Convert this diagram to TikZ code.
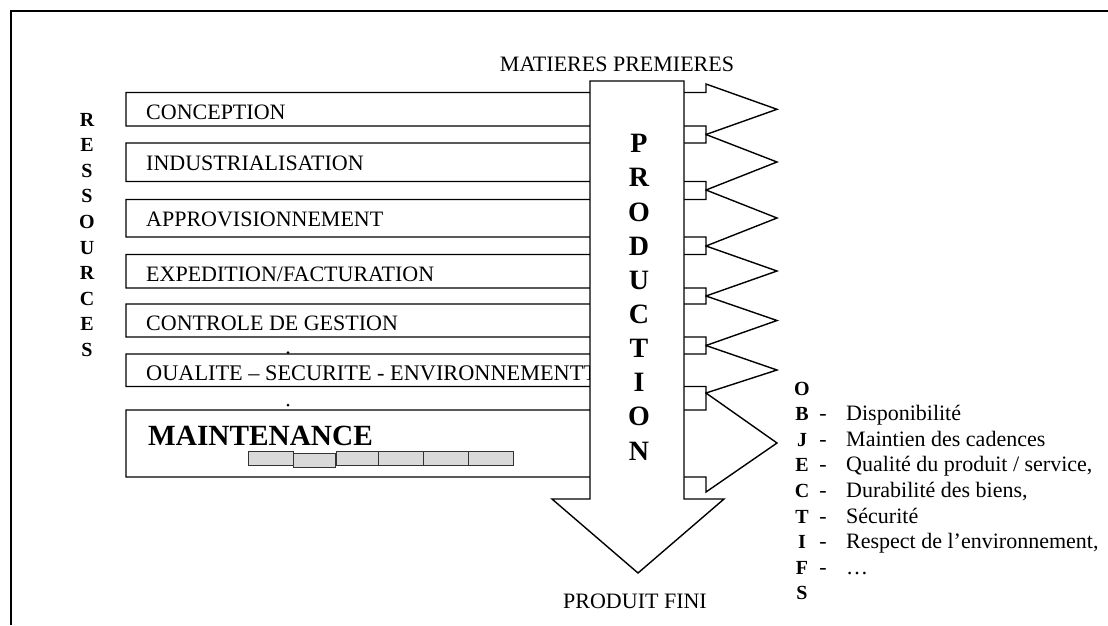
\documentclass[tikz,border=0pt]{standalone}
\usepackage{fontspec}
\setmainfont{Liberation Serif}
\begin{document}
\begin{tikzpicture}[x=1pt,y=-1pt,
  bar/.style={draw=black,fill=white,line width=1.4pt,line join=miter},
  reg/.style={font=\fontsize{22}{26}\selectfont, inner sep=0pt},
  vbold/.style={font=\fontsize{20}{24}\selectfont\bfseries, inner sep=0pt, anchor=base},
  prodletter/.style={font=\fontsize{28}{32}\selectfont\bfseries, inner sep=0pt, anchor=base},
  cell/.style={draw=black!80, fill=black!15, line width=1pt},
]
\useasboundingbox (0,0) rectangle (1108,625);
% frame
\draw[line width=1.6pt] (11,625) -- (11,11) -- (1108,11);
% bars with arrowheads
\foreach \t/\b/\jt/\jb/\m in {92.5/126/84/134.5/109.3, 143/181.5/134.5/190/162, 199.5/237/190/246/218, 254.5/288/246/296/271, 304/337/296/345.5/320.5, 354/386.5/345.5/393/370, 410/477/393/492/443}
  \draw[bar] (126,\t) -- (706,\t) -- (706,\jt) -- (777,\m) -- (706,\jb) -- (706,\b) -- (126,\b) -- cycle;
% bar texts
\node[reg, anchor=base west] (conc) at (146,119.3) {CONCEPTION};
\node[reg, anchor=base west] (indu) at (146,170.5) {INDUSTRIALISATION};
\node[reg, anchor=base west] (appro) at (146,226.7) {APPROVISIONNEMENT};
\node[reg, anchor=base west] (expe) at (146,281.2) {EXPEDITION/FACTURATION};
\node[reg, anchor=base west] (ctrl) at (146,330) {CONTROLE DE GESTION};
\node[font=\fontsize{22.3}{26}\selectfont, inner sep=0pt, anchor=base west] (qse) at (146,380) {OUALITE – SECURITE - ENVIRONNEMENTT};
\node[font=\fontsize{29.3}{33}\selectfont\bfseries, anchor=base west, inner sep=0pt] (maint) at (148,445) {MAINTENANCE};
% gray cells
\foreach \xa/\xb/\ya/\yb in {248/293/451/465, 293/335/453.5/467.5, 336/378/451/465, 378/423/451/465, 423/468/451/465, 468/513/451/465}
  \draw[cell] (\xa,\ya) rectangle (\xb,\yb);
% specks
\fill (288,352.5) circle (1.5pt);
\fill (288,405) circle (1.5pt);
% production arrow
\draw[bar] (590,81) -- (684,81) -- (684,499) -- (724,499) -- (638,573) -- (552,499) -- (590,499) -- cycle;
\foreach \l [count=\k] in {P,R,O,D,U,C,T,I,O,N}
  \node[prodletter] (p\k) at (639,{152.7+(\k-1)*34.15}) {\l};
\node[reg, anchor=base] (mp) at (617,71.7) {MATIERES PREMIERES};
\node[reg, anchor=base] (pf) at (635,608) {PRODUIT FINI};
% RESSOURCES
\foreach \l [count=\k] in {R,E,S,S,O,U,R,C,E,S}
  \node[vbold] (r\k) at (87,{126+(\k-1)*25.6}) {\l};
% OBJECTIFS
\foreach \l [count=\k] in {O,B,J,E,C,T,I,F,S}
  \node[vbold] (o\k) at (802,{395+(\k-1)*25.6}) {\l};
\foreach \txt [count=\k] in {Disponibilité, Maintien des cadences, {Qualité du produit / service,}, {Durabilité des biens,}, Sécurité, {Respect de l’environnement,}, …}{
  \node[reg, anchor=base] (d\k) at (823,{420.6+(\k-1)*25.6}) {-};
  \node[reg, anchor=base west] (t\k) at (846,{420.6+(\k-1)*25.6}) {\txt};
}
\end{tikzpicture}
\end{document}
